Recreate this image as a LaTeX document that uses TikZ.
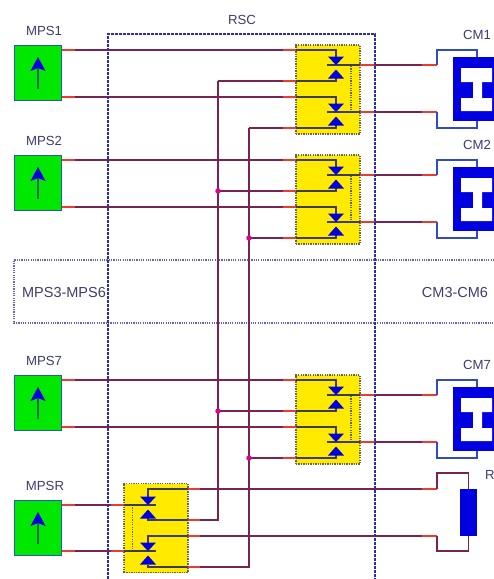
\documentclass[tikz,border=0pt]{standalone}
\usepackage{fontspec}
\setmainfont{Liberation Sans}
\usetikzlibrary{arrows.meta}

\definecolor{srcgreen}{RGB}{0,232,0}
\definecolor{srcedge}{RGB}{40,90,170}
\definecolor{srcstem}{RGB}{10,105,95}
\definecolor{swyellow}{RGB}{255,234,0}
\definecolor{swedge}{RGB}{100,100,70}
\definecolor{cmblue}{RGB}{0,0,225}
\definecolor{loopblue}{RGB}{50,75,190}
\definecolor{wirecol}{RGB}{120,35,80}
\definecolor{wirered}{RGB}{235,60,50}
\definecolor{innercol}{RGB}{60,60,95}
\definecolor{rscblue}{RGB}{45,45,165}
\definecolor{dotblue}{RGB}{105,95,190}
\definecolor{txtcol}{RGB}{60,60,112}

\tikzset{
  source/.style={draw=srcedge, fill=srcgreen, line width=1.6pt, minimum width=47pt, minimum height=55pt, inner sep=0pt},
  srcarrow/.style={draw=srcstem, line width=1.8pt, -{Stealth[length=14pt,width=15pt,inset=3pt,color=cmblue]}},
  swbox/.style={draw=swedge, fill=swyellow, line width=1.5pt, dash pattern=on 1.3pt off 1.1pt, minimum width=64pt, minimum height=89pt, inner sep=0pt},
  wire/.style={draw=wirecol, line width=1.6pt},
  redwire/.style={draw=wirered, line width=1.6pt},
  innerwire/.style={draw=innercol, line width=1.9pt},
  loopwire/.style={draw=loopblue, line width=1.5pt},
  swdots/.style={draw=swedge, line width=1.2pt, dash pattern=on 1.2pt off 1.2pt},
  label/.style={text=txtcol, inner sep=0pt, font=\fontsize{13.2}{15}\selectfont},
  biglabel/.style={text=txtcol, inner sep=0pt, font=\fontsize{14.5}{16}\selectfont},
  junction/.style={circle, fill=magenta!90!blue, minimum size=5.5pt, inner sep=0pt},
  diodes/.pic={
    \fill[cmblue] (-8,-8.5) -- (8,-8.5) -- (0,0) -- cycle;
    \fill[cmblue] (-8,13.5) -- (8,13.5) -- (0,4.5) -- cycle;
  }
}

\begin{document}
\begin{tikzpicture}[x=1pt, y=-1pt]
    \useasboundingbox (0,0) rectangle (494,579);

    % MPS3-MPS6 / CM3-CM6 band
    \coordinate (banda) at (494,260);
    \coordinate (bandb) at (14,260);
    \coordinate (bandc) at (14,323);
    \coordinate (bandd) at (494,323);
    \draw[dotblue, line width=1.3pt, dash pattern=on 1.2pt off 1.1pt] (banda) -- (bandb) -- (bandc) -- (bandd);
    \node[biglabel] (bandl) at (64,293) {MPS3-MPS6};
    \node[biglabel] (bandr) at (455,293) {CM3-CM6};

    % RSC
    \coordinate (rsca) at (108,579);
    \coordinate (rscb) at (108,34);
    \coordinate (rscc) at (375,34);
    \coordinate (rscd) at (375,579);
    \node[label] (rsc) at (242,20) {RSC};

    % MPS, switch block, CM
    \foreach \n/\ytop in {1/45,2/155,7/375} {
      \begin{scope}[shift={(0,\ytop)}]
        \node[source] (mps\n) at (38,28) {};
        \node[label] (mpsl\n) at (44,-14) {MPS\n};
        \draw[srcarrow] (38,44) -- (38,12);
        \node[swbox] (sw\n) at (328,44.5) {};
        \draw[swdots] (351,21) -- (351,67);

        \coordinate (ina\n) at (62,5);
        \coordinate (inb\n) at (62,52);
        \coordinate (busa\n) at (218,36);
        \coordinate (busb\n) at (249,83);
        \coordinate (stema\n) at (336,13);
        \coordinate (stemb\n) at (336,60);
        \coordinate (stemc\n) at (336,33);
        \coordinate (stemd\n) at (336,80);
        \coordinate (bara\n) at (327,20);
        \coordinate (barb\n) at (327,67);
        \coordinate (outa\n) at (437,20);
        \coordinate (outb\n) at (437,67);
        \coordinate (tipa\n) at (477,12);
        \coordinate (tipb\n) at (477,76);

        \draw[wire] (ina\n) -| (stema\n);
        \draw[wire] (inb\n) -| (stemb\n);
        \draw[wire] (busa\n) -| (stemc\n);
        \draw[wire] (busb\n) -| (stemd\n);
        \draw[wire] (bara\n) -- (outa\n);
        \draw[wire] (barb\n) -- (outb\n);

        % red ends, dark part in the block
        \foreach \w in {5,52} \draw[redwire] (62,\w) -- (75,\w);
        \foreach \w in {5,36,52,83} {
          \draw[redwire] (283,\w) -- (296,\w);
          \draw[innerwire] (296,\w) -- (336,\w);
        }
        \foreach \w in {20,67} {
          \draw[innerwire] (327,\w) -- (360,\w);
          \draw[redwire] (360,\w) -- (375,\w);
          \draw[redwire] (422,\w) -- (437,\w);
        }
        \draw[innerwire] (336,5) -- (stema\n);
        \draw[innerwire] (336,52) -- (stemb\n);
        \draw[innerwire] (336,36) -- (stemc\n);
        \draw[innerwire] (336,83) -- (stemd\n);
        \pic at (336,20) {diodes};
        \pic at (336,67) {diodes};

        % CM
        \node[fill=cmblue, minimum width=41pt, minimum height=64pt, inner sep=0pt] (cm\n) at (473.5,44) {};
        \fill[white] (461,23) -- (492,23) -- (492,37) -- (482,37) -- (482,53) -- (492,53) -- (492,66)
          -- (461,66) -- (461,53) -- (473,53) -- (473,37) -- (461,37) -- cycle;
        \draw[loopwire] (outa\n) -- (437,5) -| (tipa\n);
        \draw[loopwire] (outb\n) -- (437,83) -| (tipb\n);
        \node[label] (cml\n) at (477,-10) {CM\n};
      \end{scope}
    }

    % MPSR and its switch block
    \node[source] (mpsR) at (38,528) {};
    \node[label] (mpslR) at (45,486) {MPSR};
    \draw[srcarrow] (38,544) -- (38,512);
    \node[swbox] (swR) at (156,528) {};
    \draw[swdots] (132.5,505) -- (132.5,551);

    \coordinate (inaR) at (62,505);
    \coordinate (inbR) at (62,551);
    \coordinate (endaR) at (156,505);
    \coordinate (endbR) at (156,551);
    \coordinate (stemaR) at (148,497);
    \coordinate (stembR) at (148,544);
    \coordinate (stemcR) at (148,518);
    \coordinate (stemdR) at (148,565);
    \coordinate (outaR) at (437,489);
    \coordinate (outbR) at (437,536);

    \draw[wire] (inaR) -- (endaR);
    \draw[wire] (inbR) -- (endbR);
    \draw[wire] (outaR) -| (stemaR);
    \draw[wire] (outbR) -| (stembR);
    \foreach \w in {505,551} {
      \draw[redwire] (62,\w) -- (75,\w);
      \draw[redwire] (111,\w) -- (124,\w);
      \draw[innerwire] (124,\w) -- (156,\w);
    }
    \foreach \w in {489,536} {
      \draw[innerwire] (148,\w) -- (188,\w);
      \draw[redwire] (188,\w) -- (200,\w);
      \draw[redwire] (422,\w) -- (437,\w);
    }
    \draw[innerwire] (148,489) -- (stemaR);
    \draw[innerwire] (148,536) -- (stembR);

    % Buses to MPSR block
    \draw[wire] (busa1) -- (218,520) -| (stemcR);
    \draw[wire] (busb1) -- (249,567) -| (stemdR);
    \foreach \w in {520,567} {
      \draw[innerwire] (148,\w) -- (188,\w);
      \draw[redwire] (188,\w) -- (200,\w);
    }
    \draw[innerwire] (148,520) -- (stemcR);
    \draw[innerwire] (148,567) -- (stemdR);
    \pic at (148,505) {diodes};
    \pic at (148,551) {diodes};

    \foreach \n in {2,7} {
      \node[junction] (dota\n) at (busa\n) {};
      \node[junction] (dotb\n) at (busb\n) {};
    }

    % R
    \node[fill=cmblue, minimum width=17pt, minimum height=47pt, inner sep=0pt] (res) at (468.5,512.5) {};
    \node[label] (resl) at (490,475) {R};
    \draw[wire] (outaR) -- (437,473) -| (res.north);
    \draw[wire] (outbR) -- (437,551) -| (res.south);

    % RSC frame on top
    \draw[rscblue, line width=1.5pt, dash pattern=on 2.6pt off 1.4pt] (rsca) -- (rscb) -- (rscc) -- (rscd);
\end{tikzpicture}
\end{document}
